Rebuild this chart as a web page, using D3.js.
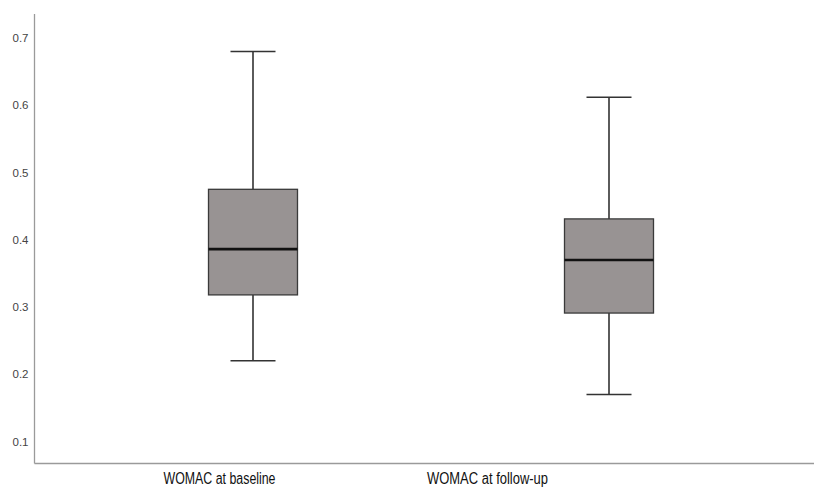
<!DOCTYPE html>
<html>
<head>
<meta charset="utf-8">
<script src="https://cdn.jsdelivr.net/npm/d3@7"></script>
<style>
  body { margin: 0; background: #fff; }
  svg { display: block; font-family: "Liberation Sans", Arial, sans-serif; }
</style>
</head>
<body>
<svg></svg>
<script>
// Data
const groups = ["WOMAC at baseline", "WOMAC at follow-up"];
const whiskerLow = [0.22, 0.17];
const q1 = [0.318, 0.291];
const medians = [0.386, 0.370];
const q3 = [0.475, 0.431];
const whiskerHigh = [0.68, 0.612];
const yTicks = [0.1, 0.2, 0.3, 0.4, 0.5, 0.6, 0.7];

const boxes = groups.map((g, i) => ({
  group: g,
  lo: whiskerLow[i], q1: q1[i], med: medians[i], q3: q3[i], hi: whiskerHigh[i]
}));

// Dimensions
const W = 814, H = 488;
const axisX = 34.5, axisTop = 14, axisBottom = 463.5;

const svg = d3.select("svg")
  .attr("width", W)
  .attr("height", H);

// Scales
const yScale = d3.scaleLinear()
  .domain([0.1, 0.7])
  .range([441.5, 38]);

// box positions
const xScale = d3.scalePoint()
  .domain(groups)
  .range([253, 609]);

// category labels sit a bit left of the boxes in the original
const labelScale = d3.scalePoint()
  .domain(groups)
  .range([219, 487]);

const boxWidth = 89;
const capWidth = 45;
const labelWidths = [112, 121]; // the original uses a condensed face

// Y axis
const yAxis = svg.append("g")
  .attr("transform", `translate(${axisX},0)`)
  .call(d3.axisLeft(yScale).tickValues(yTicks).tickSize(0).tickPadding(6).tickFormat(d3.format(".1f")));
yAxis.select(".domain").remove();
yAxis.selectAll("text")
  .attr("fill", "#444")
  .style("font-size", "11.5px");

svg.append("line")
  .attr("x1", axisX).attr("x2", axisX)
  .attr("y1", axisTop).attr("y2", axisBottom)
  .attr("stroke", "#9a9a9a")
  .attr("stroke-width", 1.3);

// X axis
svg.append("line")
  .attr("x1", axisX).attr("x2", W)
  .attr("y1", axisBottom).attr("y2", axisBottom)
  .attr("stroke", "#9a9a9a")
  .attr("stroke-width", 1.3);

const xAxis = svg.append("g")
  .attr("transform", `translate(0,${axisBottom})`)
  .call(d3.axisBottom(labelScale).tickSize(0));
xAxis.select(".domain").remove();
xAxis.selectAll("text")
  .attr("y", 20.5)
  .attr("dy", 0)
  .attr("fill", "#111")
  .attr("textLength", (d, i) => labelWidths[i])
  .attr("lengthAdjust", "spacingAndGlyphs")
  .style("font-size", "16px");

// Boxes
const g = svg.selectAll(".box")
  .data(boxes)
  .enter()
  .append("g")
  .attr("class", "box");

// whisker stems
g.append("line")
  .attr("x1", d => xScale(d.group)).attr("x2", d => xScale(d.group))
  .attr("y1", d => yScale(d.hi)).attr("y2", d => yScale(d.q3))
  .attr("stroke", "#333").attr("stroke-width", 1.6);
g.append("line")
  .attr("x1", d => xScale(d.group)).attr("x2", d => xScale(d.group))
  .attr("y1", d => yScale(d.q1)).attr("y2", d => yScale(d.lo))
  .attr("stroke", "#333").attr("stroke-width", 1.6);

// caps
g.append("line")
  .attr("x1", d => xScale(d.group) - capWidth / 2).attr("x2", d => xScale(d.group) + capWidth / 2)
  .attr("y1", d => yScale(d.hi)).attr("y2", d => yScale(d.hi))
  .attr("stroke", "#333").attr("stroke-width", 1.6);
g.append("line")
  .attr("x1", d => xScale(d.group) - capWidth / 2).attr("x2", d => xScale(d.group) + capWidth / 2)
  .attr("y1", d => yScale(d.lo)).attr("y2", d => yScale(d.lo))
  .attr("stroke", "#333").attr("stroke-width", 1.6);

// box
g.append("rect")
  .attr("x", d => xScale(d.group) - boxWidth / 2)
  .attr("width", boxWidth)
  .attr("y", d => yScale(d.q3))
  .attr("height", d => yScale(d.q1) - yScale(d.q3))
  .attr("fill", "#989393")
  .attr("stroke", "#3a3a3a")
  .attr("stroke-width", 1.3);

// median
g.append("line")
  .attr("x1", d => xScale(d.group) - boxWidth / 2).attr("x2", d => xScale(d.group) + boxWidth / 2)
  .attr("y1", d => yScale(d.med)).attr("y2", d => yScale(d.med))
  .attr("stroke", "#111").attr("stroke-width", 2.6);
</script>
</body>
</html>
